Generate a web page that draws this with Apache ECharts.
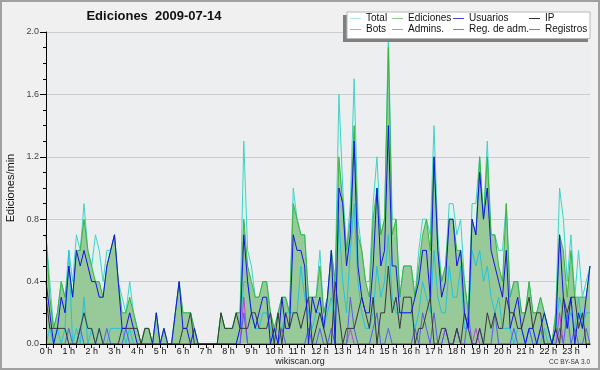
<!DOCTYPE html>
<html><head><meta charset="utf-8">
<script src="https://cdn.jsdelivr.net/npm/echarts@6/dist/echarts.min.js"></script>
<style>html,body{margin:0;padding:0;background:#f0f0f0}#c{width:600px;height:370px}</style>
</head><body><div id="c"></div>
<script>
const hourLabels = ['0 h','1 h','2 h','3 h','4 h','5 h','6 h','7 h','8 h','9 h','10 h','11 h','12 h','13 h','14 h','15 h','16 h','17 h','18 h','19 h','20 h','21 h','22 h','23 h'];
const yTicks = [0, 0.4, 0.8, 1.2, 1.6, 2.0];

const total = [
0.7,0.4,0.1,0.2,0.4,0.3, 0.6,0.4,0.7,0.6,0.9,0.6, 0.5,0.7,0.6,0.4,0.6,0.6, 0.7,0.4,0.3,0.2,0.4,0.2,
0.1,0.0,0.1,0.1,0.0,0.2, 0.0,0.1,0.0,0.0,0.2,0.4, 0.2,0.2,0.2,0.1,0.0,0.0, 0.0,0.0,0.0,0.0,0.2,0.1,
0.1,0.1,0.2,0.2,1.3,0.6, 0.5,0.3,0.3,0.4,0.4,0.2, 0.1,0.2,0.3,0.3,0.2,1.0, 0.8,0.7,0.7,0.3,0.3,0.3,
0.6,0.2,0.3,0.6,0.4,1.6, 1.0,0.6,0.9,1.7,0.8,0.6, 0.4,0.4,0.9,1.2,0.7,0.8, 2.0,0.8,0.8,0.3,0.5,0.5,
0.5,0.3,0.6,0.8,0.8,0.7, 1.4,0.7,0.4,0.5,0.9,0.9, 0.7,0.8,0.4,0.2,0.9,0.9, 1.2,0.8,1.3,0.7,0.7,0.6,
0.6,0.9,0.3,0.4,0.4,0.2, 0.2,0.4,0.2,0.2,0.3,0.2, 0.1,0.0,0.2,1.0,0.8,0.4, 0.7,0.3,0.6,0.3,0.4,0.5
];
const ediciones = [
0.7,0.3,0.1,0.2,0.4,0.3, 0.5,0.3,0.6,0.6,0.8,0.6, 0.5,0.4,0.4,0.3,0.5,0.6, 0.7,0.4,0.2,0.2,0.3,0.2,
0.1,0.0,0.1,0.1,0.0,0.2, 0.0,0.1,0.0,0.0,0.2,0.4, 0.2,0.2,0.2,0.1,0.0,0.0, 0.0,0.0,0.0,0.0,0.2,0.1,
0.1,0.1,0.2,0.2,0.8,0.5, 0.4,0.3,0.3,0.4,0.4,0.2, 0.1,0.2,0.3,0.3,0.2,0.9, 0.8,0.7,0.7,0.3,0.3,0.3,
0.5,0.2,0.3,0.6,0.4,1.2, 0.9,0.6,0.8,1.4,0.7,0.6, 0.4,0.3,0.8,1.0,0.7,0.8, 1.9,0.7,0.8,0.3,0.5,0.5,
0.5,0.3,0.5,0.7,0.8,0.6, 1.2,0.6,0.4,0.5,0.8,0.8, 0.6,0.6,0.4,0.2,0.8,0.7, 1.2,0.8,1.2,0.7,0.7,0.5,
0.4,0.9,0.3,0.4,0.4,0.2, 0.2,0.4,0.2,0.2,0.3,0.2, 0.1,0.0,0.2,0.7,0.6,0.3, 0.6,0.3,0.3,0.3,0.3,0.5
];
const usuarios = [
0.4,0.2,0.0,0.1,0.3,0.2, 0.5,0.3,0.6,0.5,0.6,0.5, 0.4,0.4,0.3,0.3,0.5,0.6, 0.7,0.4,0.1,0.1,0.2,0.1,
0.0,0.0,0.0,0.0,0.0,0.2, 0.0,0.1,0.0,0.0,0.2,0.4, 0.1,0.1,0.0,0.1,0.0,0.0, 0.0,0.0,0.0,0.0,0.0,0.0,
0.0,0.0,0.0,0.1,0.7,0.4, 0.2,0.1,0.2,0.3,0.3,0.0, 0.1,0.0,0.3,0.1,0.1,0.7, 0.6,0.6,0.5,0.0,0.3,0.2,
0.3,0.1,0.3,0.6,0.0,1.0, 0.9,0.5,0.7,1.3,0.5,0.3, 0.2,0.2,0.5,1.0,0.5,0.6, 1.4,0.5,0.5,0.2,0.2,0.2,
0.2,0.3,0.4,0.6,0.6,0.3, 1.2,0.6,0.3,0.4,0.8,0.8, 0.5,0.6,0.2,0.1,0.8,0.7, 1.1,0.8,1.0,0.6,0.5,0.4,
0.3,0.6,0.1,0.2,0.3,0.1, 0.0,0.1,0.1,0.0,0.1,0.2, 0.1,0.0,0.1,0.7,0.3,0.1, 0.3,0.0,0.2,0.1,0.3,0.5
];
const ip = [
0.3,0.1,0.1,0.1,0.1,0.1, 0.0,0.0,0.0,0.1,0.2,0.1, 0.1,0.0,0.1,0.0,0.0,0.0, 0.0,0.0,0.1,0.1,0.1,0.1,
0.1,0.0,0.1,0.1,0.0,0.0, 0.0,0.0,0.0,0.0,0.0,0.0, 0.1,0.1,0.2,0.0,0.0,0.0, 0.0,0.0,0.0,0.0,0.2,0.1,
0.1,0.1,0.2,0.1,0.1,0.1, 0.2,0.2,0.1,0.1,0.1,0.2, 0.0,0.2,0.0,0.2,0.1,0.2, 0.2,0.1,0.2,0.3,0.0,0.1,
0.2,0.1,0.0,0.0,0.4,0.2, 0.0,0.1,0.1,0.1,0.2,0.3, 0.2,0.1,0.3,0.0,0.2,0.2, 0.5,0.2,0.3,0.1,0.3,0.3,
0.3,0.0,0.1,0.1,0.2,0.3, 0.0,0.0,0.1,0.1,0.0,0.0, 0.1,0.0,0.2,0.1,0.0,0.0, 0.1,0.0,0.2,0.1,0.2,0.1,
0.1,0.3,0.2,0.2,0.1,0.1, 0.2,0.3,0.1,0.2,0.2,0.0, 0.0,0.0,0.1,0.0,0.3,0.2, 0.3,0.3,0.1,0.2,0.0,0.0
];
const bots = [];
const admins = [
0.0,0.1,0.0,0.1,0.0,0.1, 0.6,0.0,0.1,0.0,0.3,0.0, 0.1,0.0,0.1,0.0,0.0,0.1, 0.1,0.1,0.1,0.0,0.1,0.0,
0.0,0.0,0.0,0.0,0.0,0.0, 0.0,0.0,0.0,0.0,0.0,0.0, 0.0,0.0,0.0,0.0,0.0,0.0, 0.0,0.0,0.0,0.0,0.0,0.0,
0.0,0.0,0.0,0.1,0.4,0.4, 0.2,0.1,0.1,0.2,0.2,0.1, 0.0,0.0,0.1,0.2,0.2,0.2, 0.2,0.5,0.3,0.2,0.1,0.2,
0.2,0.1,0.2,0.3,0.1,0.8, 0.4,0.2,0.6,0.9,0.4,0.2, 0.1,0.1,0.2,0.5,0.3,0.4, 0.7,0.3,0.2,0.2,0.2,0.2,
0.2,0.1,0.2,0.4,0.3,0.2, 0.6,0.3,0.2,0.2,0.5,0.3, 0.3,0.5,0.1,0.1,0.6,0.5, 0.6,0.4,0.5,0.3,0.2,0.3,
0.1,0.1,0.1,0.0,0.1,0.1, 0.0,0.1,0.0,0.0,0.0,0.1, 0.0,0.0,0.1,0.3,0.2,0.1, 0.2,0.1,0.3,0.1,0.2,0.2
];
const regAdm = [
0,0,0,0,0,0, 0,0,0,0,0,0, 0,0,0,0,0,0, 0,0,0,0,0,0,
0,0,0,0,0,0, 0,0,0,0,0,0, 0,0,0,0,0,0, 0,0,0,0,0,0,
0,0,0,0,0.3,0, 0,0,0,0,0,0, 0,0,0,0,0,0, 0,0,0,0,0,0,
0,0,0,0,0,0, 0,0,0.1,0,0,0, 0,0,0,0,0,0, 0,0,0,0,0,0,
0,0,0,0,0,0, 0,0,0,0.1,0,0, 0.1,0,0,0,0,0.1, 0,0,0,0,0,0,
0,0,0,0,0,0, 0,0,0,0,0,0, 0,0,0,0.2,0,0, 0,0,0,0,0,0
];
const registros = [
0,0,0,0,0,0, 0.1,0,0,0.1,0,0, 0,0,0,0,0.1,0, 0,0,0,0.1,0,0,
0,0,0,0,0,0, 0,0,0,0,0,0, 0,0,0,0,0,0, 0,0,0,0,0,0,
0,0,0,0,0.2,0, 0,0,0,0,0,0, 0,0,0.1,0,0,0, 0,0,0,0.1,0,0,
0.1,0,0,0.1,0,0, 0,0,0.3,0.1,0,0, 0,0,0.1,0.2,0,0, 0.1,0,0,0,0,0,
0,0.1,0,0.2,0.1,0, 0.2,0,0,0.1,0,0, 0.1,0,0,0.2,0,0, 0.1,0,0,0,0.2,0,
0,0,0,0.1,0,0, 0,0.1,0,0,0.1,0, 0,0,0,0.1,0,0.2, 0,0.1,0,0,0.1,0
];

const slots = total.map((_, i) => i);
const FONT = '"Liberation Sans", Arial, sans-serif';

function lineSeries(name, data, color, extra) {
  return Object.assign({
    name: name, type: 'line', data: data, yAxisIndex: 0,
    symbol: 'none', showSymbol: false, animation: false,
    lineStyle: { color: color, width: 1 },
    itemStyle: { color: color },
    emphasis: { disabled: true },
    z: 2
  }, extra || {});
}

function legendCol(left, items) {
  return {
    left: left, top: 13, orient: 'vertical', padding: 0, itemGap: 0,
    itemWidth: 11, itemHeight: 1, icon: 'rect', selectedMode: false, z: 6,
    textStyle: { fontSize: 10, fontFamily: FONT, color: '#111', lineHeight: 11 },
    data: items.map(it => ({ name: it[0], icon: 'rect', itemStyle: { color: it[1], borderWidth: 0 } }))
  };
}

const chart = echarts.init(document.getElementById('c'));
chart.setOption({
  animation: false,
  backgroundColor: '#f0f0f0',
  grid: { left: 46, right: 10, top: 32, bottom: 26, show: true, backgroundColor: '#edeef0', borderWidth: 0 },
  legend: [
    legendCol(350, [['Total', '#aee8e4'], ['Bots', '#ff9a3c']]),
    legendCol(392, [['Ediciones', '#88cc88'], ['Admins.', '#44c8dc']]),
    legendCol(453, [['Usuarios', '#4444dd'], ['Reg. de adm.', '#cc55dd']]),
    legendCol(529, [['IP', '#333333'], ['Registros', '#7777ee']])
  ],
  xAxis: {
    type: 'category', data: slots, boundaryGap: false, z: 10,
    axisLine: { lineStyle: { color: '#000', width: 1 } },
    axisTick: { interval: 1, length: 4, lineStyle: { color: '#000' } },
    axisLabel: { interval: 5, margin: 3, fontSize: 9, fontFamily: FONT, color: '#111',
      formatter: (v, idx) => hourLabels[Math.floor(idx / 6)] },
    splitLine: { show: false }
  },
  yAxis: [
    { type: 'value', min: yTicks[0], max: yTicks[yTicks.length - 1], interval: 0.4, z: 0,
      axisLine: { show: false }, axisTick: { show: false }, axisLabel: { show: false },
      splitLine: { show: true, lineStyle: { color: '#cdcdcd', width: 1 } } },
    { type: 'value', position: 'left', min: yTicks[0], max: yTicks[yTicks.length - 1], interval: 0.4, z: 10,
      axisLine: { show: true, lineStyle: { color: '#000', width: 1 } },
      axisTick: { show: true, length: 6, lineStyle: { color: '#000' } },
      minorTick: { show: true, splitNumber: 4, length: 3, lineStyle: { color: '#000' } },
      axisLabel: { margin: 7, fontSize: 9, fontFamily: FONT, color: '#444', formatter: v => v.toFixed(1) },
      splitLine: { show: false } }
  ],
  series: [
    lineSeries('Total', total, '#3fd3c6', { areaStyle: { color: '#ddf3ee', opacity: 1 } }),
    lineSeries('Ediciones', ediciones, '#3cb43c', { areaStyle: { color: '#98c998', opacity: 1 } }),
    lineSeries('Bots', bots, '#ff9a3c'),
    lineSeries('Admins.', admins, '#22c4dc'),
    lineSeries('Reg. de adm.', regAdm, '#c040e0'),
    lineSeries('Registros', registros, '#5a5af0'),
    lineSeries('IP', ip, '#383838'),
    lineSeries('Usuarios', usuarios, '#1414e6')
  ],
  graphic: [
    { type: 'rect', z: 3, shape: { x: 343, y: 15, width: 245, height: 27 }, style: { fill: '#808080' } },
    { type: 'rect', z: 4, shape: { x: 347, y: 12, width: 243, height: 26.5 }, style: { fill: '#ffffff', stroke: '#b8b8b8', lineWidth: 1 } },
    { type: 'text', z: 5, x: 154, y: 16, style: { text: 'Ediciones  2009-07-14', fill: '#111', font: 'bold 13px ' + FONT, align: 'center', verticalAlign: 'middle' } },
    { type: 'text', z: 5, x: 11, y: 188, rotation: Math.PI / 2, style: { text: 'Ediciones/min', fill: '#111', font: '11px ' + FONT, align: 'center', verticalAlign: 'middle' } },
    { type: 'text', z: 5, x: 300, y: 362, style: { text: 'wikiscan.org', fill: '#222', font: '9px ' + FONT, align: 'center', verticalAlign: 'middle' } },
    { type: 'text', z: 5, x: 590, y: 362, style: { text: 'CC BY-SA 3.0', fill: '#333', font: '6.5px ' + FONT, align: 'right', verticalAlign: 'middle' } },
    { type: 'rect', z: 20, shape: { x: 1, y: 1, width: 598, height: 368 }, style: { fill: 'none', stroke: '#a0a0a0', lineWidth: 2 } }
  ]
});
</script></body></html>
